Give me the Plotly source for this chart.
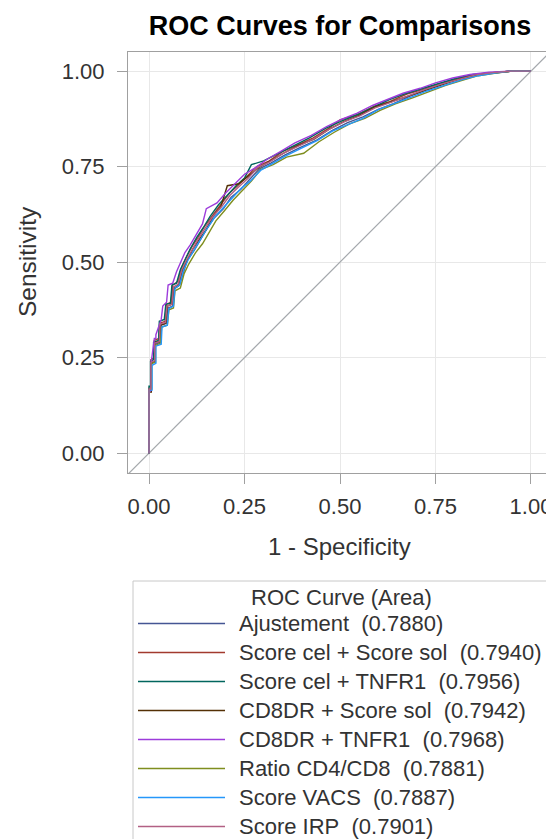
import plotly.graph_objects as go

# ---------------- data ----------------
series_names = ["Ajustement", "Score cel + Score sol", "Score cel + TNFR1", "CD8DR + Score sol",
                "CD8DR + TNFR1", "Ratio CD4/CD8", "Score VACS", "Score IRP"]
series_auc = [0.7880, 0.7940, 0.7956, 0.7942, 0.7968, 0.7881, 0.7887, 0.7901]

fpr_ajust = [0, 0, 0.006, 0.006, 0.016, 0.016, 0.030, 0.032, 0.046, 0.050, 0.062, 0.066, 0.080, 0.090, 0.100, 0.118, 0.135, 0.150, 0.170, 0.195, 0.215, 0.240, 0.262, 0.290, 0.320, 0.355, 0.395, 0.440, 0.480, 0.520, 0.560, 0.600, 0.640, 0.685, 0.725, 0.770, 0.815, 0.860, 0.900, 0.950, 1.0]
tpr_ajust = [0, 0.165, 0.165, 0.235, 0.240, 0.285, 0.290, 0.335, 0.340, 0.380, 0.385, 0.430, 0.440, 0.475, 0.505, 0.530, 0.560, 0.585, 0.615, 0.640, 0.670, 0.690, 0.715, 0.745, 0.760, 0.780, 0.800, 0.820, 0.845, 0.865, 0.880, 0.900, 0.915, 0.935, 0.950, 0.968, 0.980, 0.990, 0.995, 1.0, 1.0]

fpr_celsol = [0, 0, 0.005, 0.005, 0.014, 0.014, 0.026, 0.028, 0.042, 0.046, 0.058, 0.062, 0.076, 0.085, 0.096, 0.112, 0.128, 0.146, 0.165, 0.188, 0.210, 0.232, 0.258, 0.282, 0.315, 0.350, 0.385, 0.430, 0.470, 0.500, 0.545, 0.590, 0.630, 0.675, 0.720, 0.765, 0.810, 0.855, 0.900, 0.950, 1.0]
tpr_celsol = [0, 0.170, 0.170, 0.245, 0.250, 0.295, 0.300, 0.340, 0.345, 0.390, 0.395, 0.440, 0.450, 0.485, 0.510, 0.540, 0.565, 0.595, 0.620, 0.650, 0.680, 0.700, 0.725, 0.750, 0.765, 0.790, 0.805, 0.825, 0.850, 0.872, 0.886, 0.908, 0.920, 0.940, 0.953, 0.968, 0.980, 0.990, 0.996, 1.0, 1.0]

fpr_celtnf = [0, 0, 0.004, 0.004, 0.012, 0.012, 0.025, 0.027, 0.040, 0.044, 0.056, 0.060, 0.072, 0.082, 0.094, 0.108, 0.125, 0.142, 0.160, 0.182, 0.205, 0.228, 0.250, 0.268, 0.300, 0.340, 0.378, 0.420, 0.462, 0.505, 0.548, 0.590, 0.628, 0.668, 0.712, 0.755, 0.800, 0.848, 0.895, 0.950, 1.0]
tpr_celtnf = [0, 0.175, 0.175, 0.240, 0.245, 0.290, 0.295, 0.345, 0.350, 0.390, 0.392, 0.440, 0.445, 0.480, 0.505, 0.535, 0.565, 0.590, 0.620, 0.650, 0.675, 0.700, 0.720, 0.755, 0.765, 0.785, 0.805, 0.825, 0.850, 0.870, 0.887, 0.908, 0.925, 0.940, 0.953, 0.967, 0.980, 0.991, 0.996, 1.0, 1.0]

fpr_cd8sol = [0, 0, 0.006, 0.006, 0.016, 0.016, 0.028, 0.030, 0.044, 0.048, 0.060, 0.064, 0.078, 0.088, 0.098, 0.115, 0.132, 0.150, 0.168, 0.188, 0.205, 0.235, 0.260, 0.288, 0.318, 0.352, 0.390, 0.432, 0.472, 0.510, 0.550, 0.592, 0.635, 0.680, 0.722, 0.768, 0.812, 0.858, 0.900, 0.950, 1.0]
tpr_cd8sol = [0, 0.160, 0.160, 0.235, 0.240, 0.290, 0.292, 0.335, 0.340, 0.385, 0.390, 0.430, 0.440, 0.480, 0.500, 0.535, 0.560, 0.585, 0.620, 0.645, 0.700, 0.705, 0.725, 0.748, 0.765, 0.785, 0.805, 0.822, 0.848, 0.868, 0.884, 0.906, 0.920, 0.935, 0.950, 0.966, 0.979, 0.990, 0.995, 1.0, 1.0]

fpr_cd8tnf = [0, 0, 0.006, 0.006, 0.014, 0.018, 0.018, 0.032, 0.036, 0.046, 0.050, 0.062, 0.072, 0.082, 0.094, 0.108, 0.125, 0.140, 0.150, 0.178, 0.200, 0.225, 0.250, 0.280, 0.310, 0.345, 0.382, 0.425, 0.465, 0.505, 0.545, 0.585, 0.625, 0.665, 0.710, 0.750, 0.795, 0.840, 0.890, 0.945, 1.0]
tpr_cd8tnf = [0, 0.160, 0.165, 0.240, 0.300, 0.300, 0.310, 0.350, 0.385, 0.395, 0.440, 0.445, 0.475, 0.500, 0.525, 0.545, 0.575, 0.600, 0.640, 0.655, 0.680, 0.705, 0.730, 0.748, 0.770, 0.790, 0.812, 0.832, 0.855, 0.874, 0.890, 0.910, 0.926, 0.942, 0.955, 0.969, 0.982, 0.991, 0.997, 1.0, 1.0]

fpr_ratio = [0, 0, 0.007, 0.007, 0.017, 0.017, 0.030, 0.033, 0.048, 0.052, 0.064, 0.068, 0.082, 0.092, 0.104, 0.122, 0.140, 0.158, 0.175, 0.198, 0.220, 0.245, 0.268, 0.292, 0.325, 0.360, 0.405, 0.445, 0.485, 0.525, 0.565, 0.605, 0.645, 0.690, 0.730, 0.775, 0.820, 0.862, 0.905, 0.950, 1.0]
tpr_ratio = [0, 0.165, 0.168, 0.235, 0.238, 0.282, 0.288, 0.330, 0.335, 0.375, 0.380, 0.425, 0.432, 0.470, 0.495, 0.525, 0.548, 0.578, 0.608, 0.635, 0.662, 0.688, 0.712, 0.742, 0.755, 0.775, 0.785, 0.815, 0.840, 0.862, 0.876, 0.897, 0.914, 0.930, 0.946, 0.962, 0.976, 0.988, 0.994, 1.0, 1.0]

fpr_vacs = [0, 0, 0.008, 0.008, 0.018, 0.018, 0.032, 0.034, 0.048, 0.052, 0.064, 0.068, 0.080, 0.090, 0.102, 0.118, 0.134, 0.152, 0.172, 0.195, 0.218, 0.240, 0.265, 0.292, 0.322, 0.358, 0.398, 0.440, 0.480, 0.520, 0.560, 0.600, 0.642, 0.685, 0.728, 0.772, 0.818, 0.862, 0.905, 0.950, 1.0]
tpr_vacs = [0, 0.165, 0.165, 0.230, 0.235, 0.280, 0.285, 0.330, 0.335, 0.378, 0.385, 0.432, 0.440, 0.478, 0.505, 0.532, 0.560, 0.588, 0.618, 0.642, 0.668, 0.692, 0.712, 0.740, 0.758, 0.778, 0.798, 0.818, 0.843, 0.860, 0.876, 0.899, 0.914, 0.931, 0.948, 0.963, 0.977, 0.988, 0.995, 1.0, 1.0]

fpr_irp = [0, 0, 0.005, 0.005, 0.015, 0.015, 0.027, 0.029, 0.043, 0.047, 0.060, 0.064, 0.076, 0.086, 0.098, 0.114, 0.130, 0.148, 0.166, 0.190, 0.212, 0.236, 0.260, 0.285, 0.315, 0.350, 0.388, 0.430, 0.470, 0.512, 0.552, 0.592, 0.635, 0.678, 0.720, 0.765, 0.810, 0.855, 0.900, 0.950, 1.0]
tpr_irp = [0, 0.168, 0.168, 0.238, 0.242, 0.288, 0.292, 0.338, 0.342, 0.385, 0.390, 0.435, 0.442, 0.480, 0.505, 0.535, 0.562, 0.590, 0.618, 0.645, 0.675, 0.698, 0.720, 0.748, 0.762, 0.784, 0.802, 0.822, 0.847, 0.868, 0.883, 0.904, 0.919, 0.936, 0.951, 0.966, 0.979, 0.990, 0.996, 1.0, 1.0]

tick_vals = [0, 0.25, 0.5, 0.75, 1.0]
tick_text = ["0.00", "0.25", "0.50", "0.75", "1.00"]
diag_vals = [-0.1, 1.1]

# ---------------- styling ----------------
colors = ["#445694", "#A23A2E", "#01665E", "#543005", "#9D3CDB", "#7F8E1F", "#2597FA", "#B26084"]
FONT = "Liberation Sans, Arial, sans-serif"
OFF = 8  # page body margin offsets the figure by 8px
W, H = 554 - OFF, 839 - OFF
# plot area in reference (window) pixels
PL, PR, PT, PB = 128, 552, 52, 473
ML, MT = PL - OFF, PT - OFF
MR = W - (PR - OFF)
MB = H - (PB - OFF)
PW, PH = PR - PL, PB - PT

def px_to_paper(xp, yp):
    return (xp - PL) / PW, (PB - yp) / PH

fpr_all = [fpr_ajust, fpr_celsol, fpr_celtnf, fpr_cd8sol, fpr_cd8tnf, fpr_ratio, fpr_vacs, fpr_irp]
tpr_all = [tpr_ajust, tpr_celsol, tpr_celtnf, tpr_cd8sol, tpr_cd8tnf, tpr_ratio, tpr_vacs, tpr_irp]

fig = go.Figure()
fig.add_trace(go.Scatter(x=diag_vals, y=diag_vals, mode="lines",
                         line=dict(color="#A4A8AC", width=1.2), showlegend=False, hoverinfo="skip"))
for name, fx, ty, c in zip(series_names, fpr_all, tpr_all, colors):
    fig.add_trace(go.Scatter(x=fx, y=ty, mode="lines", name=name,
                             line=dict(color=c, width=1.4), showlegend=False))

axis_common = dict(tickvals=tick_vals, ticktext=tick_text, showgrid=True, gridcolor="#E8E8E8",
                   gridwidth=1, zeroline=False, showline=True, linecolor="#A0A0A0", linewidth=1.2,
                   mirror=True, ticks="outside", ticklen=10, tickcolor="#A0A0A0", tickwidth=1.2,
                   automargin=False,
                   tickfont=dict(family=FONT, size=22, color="#333333"))
fig.update_xaxes(range=[-0.055, 1.055], ticklabelstandoff=3, **axis_common)
fig.update_yaxes(range=[-0.052, 1.05], ticklabelstandoff=8, **axis_common)

annotations = []
shapes = []
# axis titles
x, y = px_to_paper(339, 546.7)
annotations.append(dict(text="1 - Specificity", x=x, y=y, xref="paper", yref="paper",
                        xanchor="center", yanchor="middle", showarrow=False,
                        font=dict(family=FONT, size=24, color="#333333")))
x, y = px_to_paper(27, 262)
annotations.append(dict(text="Sensitivity", x=x, y=y, xref="paper", yref="paper", textangle=-90,
                        xanchor="center", yanchor="middle", showarrow=False,
                        font=dict(family=FONT, size=24.5, color="#333333")))

# legend box
x0, y0 = px_to_paper(133, 581)
x1, y1 = px_to_paper(550, 860)
shapes.append(dict(type="rect", xref="paper", yref="paper", x0=x0, x1=x1, y0=y1, y1=y0,
                   line=dict(color="#C8C8C8", width=1), fillcolor="rgba(0,0,0,0)"))
x, y = px_to_paper(341, 597)
annotations.append(dict(text="ROC Curve (Area)", x=x, y=y, xref="paper", yref="paper",
                        xanchor="center", yanchor="middle", showarrow=False,
                        font=dict(family=FONT, size=22, color="#333333")))
row0, row_step = 623.5, 29.0
for i, (name, auc, c) in enumerate(zip(series_names, series_auc, colors)):
    yp = row0 + i * row_step
    lx0, ly = px_to_paper(138, yp)
    lx1, _ = px_to_paper(225, yp)
    shapes.append(dict(type="line", xref="paper", yref="paper", x0=lx0, x1=lx1, y0=ly, y1=ly,
                       line=dict(color=c, width=1.4)))
    tx, _ = px_to_paper(237, yp)
    annotations.append(dict(text=f"{name}\u00a0\u00a0({auc:.4f})", x=tx, y=ly, xref="paper", yref="paper",
                            xanchor="left", yanchor="middle", showarrow=False,
                            font=dict(family=FONT, size=22, color="#333333")))

fig.update_layout(
    width=W, height=H,
    margin=dict(l=ML, r=MR, t=MT, b=MB, pad=0, autoexpand=False),
    paper_bgcolor="white", plot_bgcolor="white",
    title=dict(text="<b>ROC Curves for Comparisons</b>", x=0.5, xref="paper", xanchor="center",
               y=1 - 18 / H, yref="container", yanchor="middle",
               font=dict(family=FONT, size=27, color="#000000")),
    showlegend=False,
    annotations=annotations, shapes=shapes,
)

fig.write_html("out.html")
